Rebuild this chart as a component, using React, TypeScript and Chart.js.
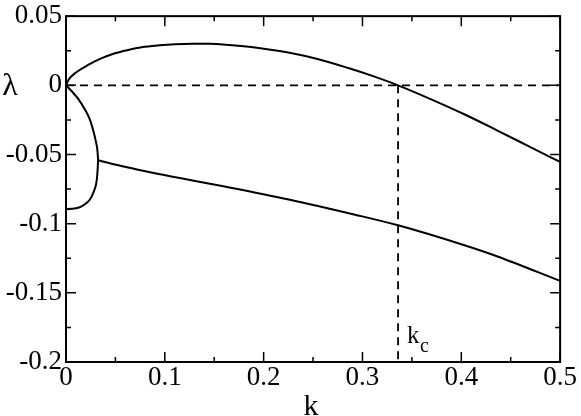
import React, { useEffect, useRef } from "react";
import { Chart, registerables } from "chart.js";

Chart.register(...registerables);

// ---- data ----
const upperK = [0, 0.0027, 0.0094, 0.0228, 0.0362, 0.0496, 0.063, 0.0765, 0.0946, 0.11, 0.128, 0.145, 0.1617, 0.18, 0.195, 0.2287, 0.2555, 0.2857, 0.31, 0.336, 0.3695, 0.403, 0.4366, 0.47, 0.5];
const upperL = [0, 0.0041, 0.0089, 0.0149, 0.0196, 0.0232, 0.0256, 0.0275, 0.0289, 0.0297, 0.0301, 0.03, 0.0294, 0.0283, 0.027, 0.0232, 0.0189, 0.0125, 0.0068, 0, -0.0101, -0.0209, -0.0327, -0.0447, -0.0554];

const branchAK = [0, 0.0057, 0.012, 0.019, 0.024, 0.0275, 0.0302, 0.0318, 0.0325];
const branchAL = [0, -0.0042, -0.0095, -0.0173, -0.0245, -0.0325, -0.0405, -0.047, -0.0541];

const branchBK = [0, 0.006, 0.0124, 0.018, 0.024, 0.028, 0.0309, 0.0318, 0.0325];
const branchBL = [-0.0895, -0.0893, -0.0885, -0.0865, -0.0827, -0.077, -0.0696, -0.063, -0.0541];

const lowerK = [0.0325, 0.0594, 0.0912, 0.158, 0.2254, 0.2924, 0.336, 0.4, 0.4366, 0.5];
const lowerL = [-0.0541, -0.0589, -0.0637, -0.0728, -0.0825, -0.0935, -0.1012, -0.1149, -0.1237, -0.1414];

const kc = 0.336;
const xMin = 0, xMax = 0.5, yMin = -0.2, yMax = 0.05;
const xMajorTicks = [0, 0.1, 0.2, 0.3, 0.4, 0.5];
const xMinorTicks = [0.05, 0.15, 0.25, 0.35, 0.45];
const yMajorTicks = [-0.2, -0.15, -0.1, -0.05, 0, 0.05];
const yMinorTicks = [-0.175, -0.125, -0.075, -0.025, 0.025];

const SERIF = "'Liberation Serif', 'DejaVu Serif', serif";

const pts = (xs: number[], ys: number[]) => xs.map((x, i) => ({ x, y: ys[i] }));
const fmt = (v: any) => String(+Number(v).toFixed(3));

const framePlugin = {
  id: "frame",
  afterDatasetsDraw(chart: any) {
    const { ctx, chartArea: a, scales } = chart;
    const xs = scales.x, ys = scales.y;
    ctx.save();
    ctx.strokeStyle = "#000";
    ctx.lineWidth = 2;
    ctx.setLineDash([]);
    ctx.strokeRect(a.left, a.top, a.right - a.left, a.bottom - a.top);
    ctx.lineWidth = 1.5;
    const tickX = (v: number, len: number) => {
      const p = xs.getPixelForValue(v);
      ctx.beginPath();
      ctx.moveTo(p, a.bottom); ctx.lineTo(p, a.bottom - len);
      ctx.moveTo(p, a.top); ctx.lineTo(p, a.top + len);
      ctx.stroke();
    };
    const tickY = (v: number, len: number) => {
      const p = ys.getPixelForValue(v);
      ctx.beginPath();
      ctx.moveTo(a.left, p); ctx.lineTo(a.left + len, p);
      ctx.moveTo(a.right, p); ctx.lineTo(a.right - len, p);
      ctx.stroke();
    };
    xMajorTicks.forEach((v) => tickX(v, 10));
    xMinorTicks.forEach((v) => tickX(v, 5));
    yMajorTicks.forEach((v) => tickY(v, 10));
    yMinorTicks.forEach((v) => tickY(v, 5));

    ctx.fillStyle = "#000";
    ctx.textBaseline = "alphabetic";
    // y title
    ctx.font = `32px ${SERIF}`;
    ctx.textAlign = "center";
    ctx.fillText("λ", 10, ys.getPixelForValue(0) + 10);
    // x title
    ctx.font = `30px ${SERIF}`;
    ctx.fillText("k", (a.left + a.right) / 2 - 2, 415);
    // k_c label
    ctx.textAlign = "left";
    ctx.font = `25px ${SERIF}`;
    const kx = xs.getPixelForValue(kc);
    ctx.fillText("k", kx + 9, 343);
    ctx.font = `20px ${SERIF}`;
    ctx.fillText("c", kx + 22, 352);
    ctx.restore();
  },
};

export default function App() {
  const ref = useRef<HTMLCanvasElement | null>(null);
  useEffect(() => {
    if (!ref.current) return;
    const curve = { borderColor: "#000", borderWidth: 2, pointRadius: 0, showLine: true, cubicInterpolationMode: "monotone" as const, fill: false };
    const dash = { borderColor: "#000", borderWidth: 1.8, pointRadius: 0, showLine: true, borderDash: [8, 6], tension: 0, fill: false };
    const chart = new Chart(ref.current, {
      type: "scatter",
      data: {
        datasets: [
          { ...dash, data: [{ x: xMin, y: 0 }, { x: xMax, y: 0 }] },
          { ...dash, data: [{ x: kc, y: 0 }, { x: kc, y: yMin }] },
          { ...curve, data: pts(upperK, upperL) },
          { ...curve, data: pts(branchAK, branchAL) },
          { ...curve, data: pts(branchBK, branchBL) },
          { ...curve, data: pts(lowerK, lowerL) },
        ],
      },
      options: {
        animation: false,
        responsive: false,
        devicePixelRatio: 1,
        layout: { padding: { left: 0, top: 12.5, right: 18, bottom: 0 } },
        plugins: { legend: { display: false }, tooltip: { enabled: false } },
        scales: {
          x: {
            type: "linear",
            min: xMin,
            max: xMax,
            grid: { display: false, drawTicks: false },
            border: { display: false },
            ticks: { stepSize: 0.1, color: "#000", font: { family: SERIF, size: 27, lineHeight: 0.9 }, padding: 4, maxRotation: 0, callback: fmt },
            afterFit: (s: any) => { s.height = 54; },
          },
          y: {
            type: "linear",
            min: yMin,
            max: yMax,
            grid: { display: false, drawTicks: false },
            border: { display: false },
            ticks: { stepSize: 0.05, color: "#000", font: { family: SERIF, size: 27, lineHeight: 0.9 }, padding: 4, callback: fmt },
            afterFit: (s: any) => { s.width = 66; },
          },
        },
      },
      plugins: [framePlugin],
    });
    return () => chart.destroy();
  }, []);
  return (
    <div style={{ position: "fixed", left: 0, top: 0, width: 581, height: 416, background: "#fff" }}>
      <canvas ref={ref} width={581} height={416} style={{ display: "block" }} />
    </div>
  );
}
